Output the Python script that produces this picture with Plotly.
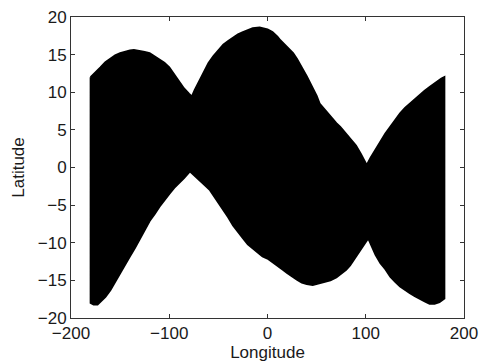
import plotly.graph_objects as go

# Upper envelope of the covered region (longitude, latitude)
lon_upper = [-180, -175, -170, -165, -160, -155, -150, -145, -140, -136, -130, -125, -120,
             -115, -110, -105, -100, -95, -90, -85, -80, -77, -74, -70, -65, -60, -55, -50,
             -45, -40, -35, -30, -25, -20, -15, -8, -3, 0, 5, 10, 13, 20, 26, 30, 35, 40,
             45, 50, 53, 60, 65, 70, 74, 80, 85, 90, 95, 101, 105, 110, 115, 120, 125, 130,
             135, 140, 145, 150, 155, 160, 165, 170, 177, 180]
lat_upper = [12.0, 12.6, 13.3, 14.0, 14.5, 14.9, 15.2, 15.4, 15.55, 15.6, 15.5, 15.35, 15.2,
             14.8, 14.4, 13.9, 13.3, 12.4, 11.4, 10.5, 9.8, 9.4, 10.3, 11.3, 12.5, 13.9, 14.8,
             15.6, 16.3, 16.8, 17.3, 17.7, 18.0, 18.3, 18.5, 18.6, 18.5, 18.35, 18.0, 17.4,
             16.9, 16.0, 15.2, 14.4, 13.3, 12.1, 10.8, 9.5, 8.5, 7.4, 6.6, 5.9, 5.4, 4.5, 3.7,
             2.9, 1.8, 0.3, 1.3, 2.4, 3.5, 4.5, 5.4, 6.3, 7.2, 7.9, 8.5, 9.0, 9.6, 10.2, 10.7,
             11.2, 11.8, 12.0]

# Lower envelope of the covered region
lon_lower = [-180, -177, -173, -170, -165, -160, -155, -150, -145, -140, -135, -130, -125,
             -120, -115, -110, -105, -100, -95, -90, -85, -79, -75, -70, -65, -58.5, -55,
             -50, -45, -40, -35, -30, -25, -20, -15, -10, -5, 0, 5, 10, 16, 20, 25, 30, 35,
             40, 46, 52, 58, 64, 70, 75, 80, 84, 90, 95, 100, 102.6, 106, 110, 115, 120, 125,
             130, 135, 140, 145, 150, 155, 160, 165, 170, 175, 178, 180]
lat_lower = [-18.0, -18.2, -18.2, -17.9, -17.2, -16.3, -15.2, -14.0, -12.9, -11.8, -10.7,
             -9.6, -8.3, -7.1, -6.2, -5.2, -4.3, -3.5, -2.7, -2.0, -1.4, -0.5, -1.0, -1.6,
             -2.2, -3.0, -3.7, -4.6, -5.6, -6.6, -7.7, -8.6, -9.4, -10.2, -10.8, -11.3, -11.8,
             -12.1, -12.6, -13.0, -13.6, -14.0, -14.5, -14.9, -15.3, -15.5, -15.6, -15.4,
             -15.2, -15.0, -14.6, -14.1, -13.6, -13.0, -11.8, -10.9, -9.9, -9.4, -10.5, -11.6,
             -12.7, -13.5, -14.5, -15.2, -15.8, -16.3, -16.7, -17.1, -17.5, -17.8, -18.1,
             -18.1, -17.9, -17.6, -17.4]

x_ticks = [-200, -100, 0, 100, 200]
y_ticks = [-20, -15, -10, -5, 0, 5, 10, 15, 20]

poly_x = lon_upper + lon_lower[::-1] + [lon_upper[0]]
poly_y = lat_upper + lat_lower[::-1] + [lat_upper[0]]

fig = go.Figure()
fig.add_trace(go.Scatter(
    x=poly_x, y=poly_y, mode="lines", fill="toself",
    fillcolor="black", line=dict(color="black", width=2),
    hoverinfo="skip", showlegend=False))

font = dict(family="Liberation Sans, Arial, sans-serif", size=17, color="#1a1a1a")
axis_common = dict(showgrid=False, zeroline=False, showline=True, linecolor="#333",
                   linewidth=1, mirror="ticks", ticks="inside", ticklen=4,
                   tickcolor="#333", tickfont=font, automargin=False)

fig.update_layout(
    width=479, height=362,
    margin=dict(l=71, r=15, t=17, b=44, autoexpand=False),
    paper_bgcolor="white", plot_bgcolor="white",
    font=font,
    xaxis=dict(range=[-200, 200], tickvals=x_ticks,
               title=dict(text="Longitude", font=font, standoff=2), **axis_common),
    yaxis=dict(range=[-20, 20], tickvals=y_ticks,
               title=dict(text="Latitude", font=font, standoff=8), **axis_common),
)

fig.write_html("out.html", config={"displayModeBar": False},
               post_script="document.body.style.margin='0';")
